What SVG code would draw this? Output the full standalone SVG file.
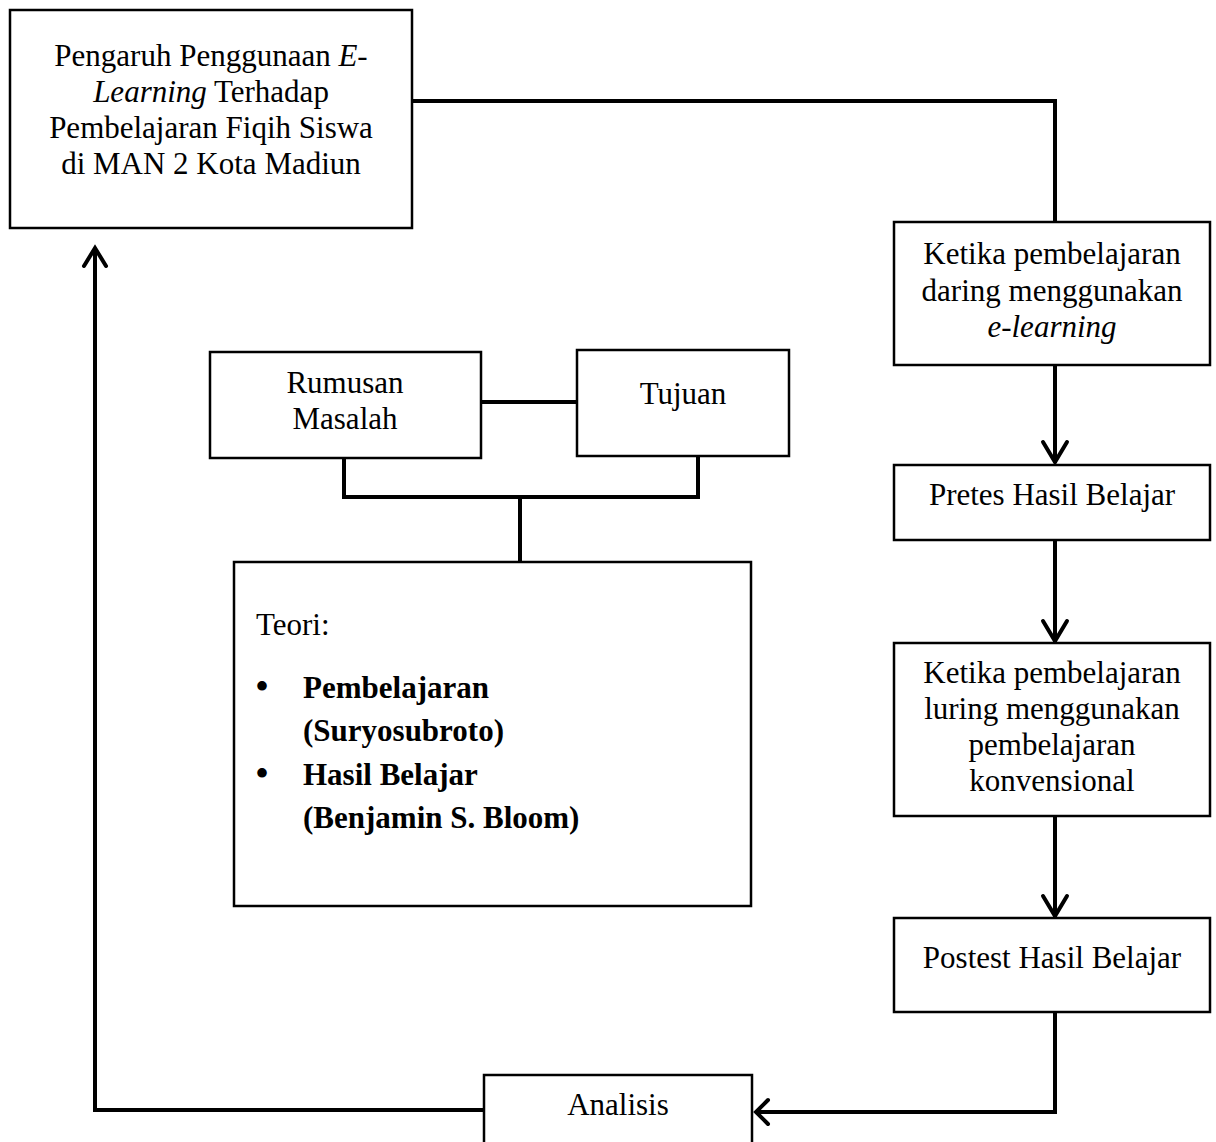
<svg xmlns="http://www.w3.org/2000/svg" width="1216" height="1142" viewBox="0 0 1216 1142">
<style>
.box{fill:#fff;stroke:#000;stroke-width:2.5}
.t{font-family:"Liberation Serif","Times New Roman",serif;font-size:31px;fill:#000}
.c{text-anchor:middle}
.b{font-weight:bold}
.bul{font-family:"Liberation Serif","Times New Roman",serif;font-size:40px;fill:#000}
.ln{fill:none;stroke:#000;stroke-width:4;stroke-linecap:square}
.ah{fill:none;stroke:#000;stroke-width:4;stroke-linecap:round;stroke-linejoin:miter}
</style>
<rect width="1216" height="1142" fill="#fff"/>
<g id="connectors">
<polyline class="ln" points="412,101 1055,101 1055,222"/>
<line class="ln" x1="1055" y1="365" x2="1055" y2="461"/>
<polyline class="ah" points="1043,442 1055,462 1067,442"/>
<line class="ln" x1="1055" y1="540" x2="1055" y2="640"/>
<polyline class="ah" points="1043,621 1055,641 1067,621"/>
<line class="ln" x1="1055" y1="816" x2="1055" y2="915"/>
<polyline class="ah" points="1043,896 1055,916 1067,896"/>
<polyline class="ln" points="1055,1012 1055,1112 758,1112"/>
<polyline class="ah" points="768,1100 756,1112 768,1124"/>
<polyline class="ln" points="484,1110 95,1110 95,250"/>
<polyline class="ah" points="84,266 95,248 106,266"/>
<line class="ln" x1="481" y1="402" x2="577" y2="402"/>
<polyline class="ln" points="344,458 344,497 698,497 698,456"/>
<line class="ln" x1="520" y1="497" x2="520" y2="562"/>
</g>
<g id="node-judul">
<rect class="box" x="10" y="10" width="402" height="218"/>
<text class="t c" x="211" y="66">Pengaruh Penggunaan <tspan font-style="italic">E-</tspan></text>
<text class="t c" x="211" y="102"><tspan font-style="italic">Learning</tspan> Terhadap</text>
<text class="t c" x="211" y="138">Pembelajaran Fiqih Siswa</text>
<text class="t c" x="211" y="174">di MAN 2 Kota Madiun</text>
</g>
<g id="node-daring">
<rect class="box" x="894" y="222" width="316" height="143"/>
<text class="t c" x="1052" y="264">Ketika pembelajaran</text>
<text class="t c" x="1052" y="301">daring menggunakan</text>
<text class="t c" x="1052" y="337" font-style="italic">e-learning</text>
</g>
<g id="node-pretes">
<rect class="box" x="894" y="465" width="316" height="75"/>
<text class="t c" x="1052" y="505">Pretes Hasil Belajar</text>
</g>
<g id="node-luring">
<rect class="box" x="894" y="643" width="316" height="173"/>
<text class="t c" x="1052" y="683">Ketika pembelajaran</text>
<text class="t c" x="1052" y="719">luring menggunakan</text>
<text class="t c" x="1052" y="755">pembelajaran</text>
<text class="t c" x="1052" y="791">konvensional</text>
</g>
<g id="node-postest">
<rect class="box" x="894" y="918" width="316" height="94"/>
<text class="t c" x="1052" y="968">Postest Hasil Belajar</text>
</g>
<g id="node-analisis">
<rect class="box" x="484" y="1075" width="268" height="80"/>
<text class="t c" x="618" y="1115">Analisis</text>
</g>
<g id="node-rumusan">
<rect class="box" x="210" y="352" width="271" height="106"/>
<text class="t c" x="345" y="393">Rumusan</text>
<text class="t c" x="345" y="429">Masalah</text>
</g>
<g id="node-tujuan">
<rect class="box" x="577" y="350" width="212" height="106"/>
<text class="t c" x="683" y="404">Tujuan</text>
</g>
<g id="node-teori">
<rect class="box" x="234" y="562" width="517" height="344"/>
<text class="t" x="256" y="635">Teori:</text>
<text class="bul" x="255" y="700">•</text>
<text class="t b" x="303" y="698">Pembelajaran</text>
<text class="t b" x="303" y="741">(Suryosubroto)</text>
<text class="bul" x="255" y="787">•</text>
<text class="t b" x="303" y="785">Hasil Belajar</text>
<text class="t b" x="303" y="828">(Benjamin S. Bloom)</text>
</g>
</svg>
